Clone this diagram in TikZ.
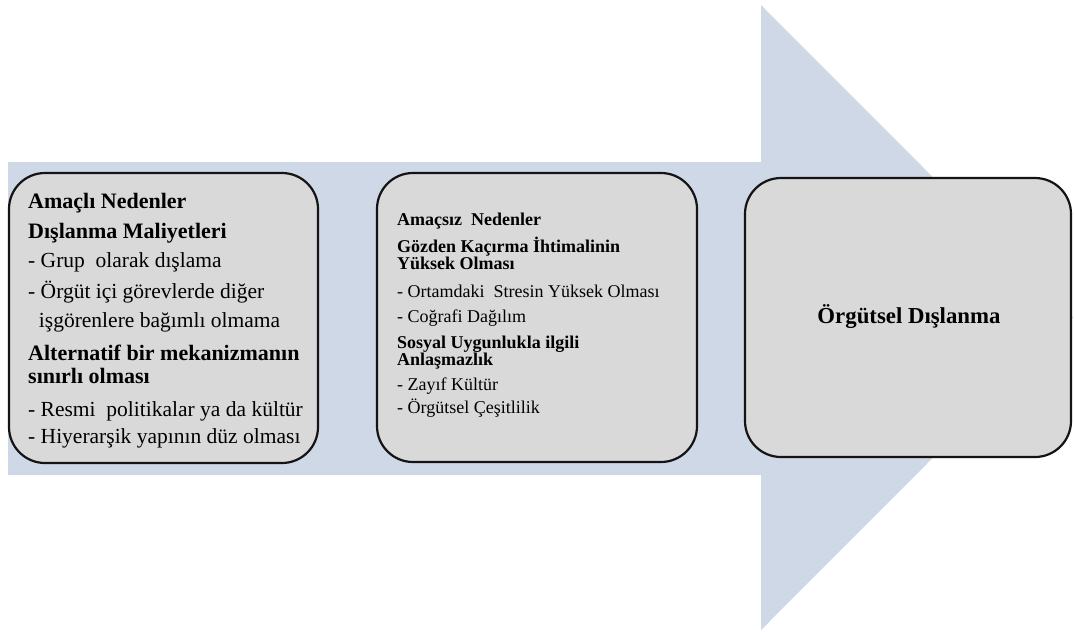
\documentclass[tikz,border=0pt]{standalone}
\usepackage{fontspec}
\setmainfont{Liberation Serif}
\definecolor{arrowfill}{RGB}{207,216,230}
\definecolor{boxfill}{RGB}{217,217,217}
\definecolor{boxline}{RGB}{20,20,20}
\tikzset{
  causebox/.style={draw=boxline, fill=boxfill, line width=2.2pt, rounded corners=36pt},
  boxtext/.style={anchor=north west, inner sep=0pt, align=left, text=black},
}
\newcommand{\hdA}[1]{{\fontsize{22}{30}\selectfont\bfseries #1}}
\begin{document}
\begin{tikzpicture}[x=1pt,y=-1pt]
\useasboundingbox (0,0) rectangle (1074,632);
\begin{scope}
\clip (0,0) rectangle (1074,632);
\fill[arrowfill] (8,162) -- (761,162) -- (761,5) -- (1073,317.5) -- (761,630) -- (761,475) -- (8,475) -- cycle;
\end{scope}
% boxes
\path[causebox] (9,173) rectangle (318,463);
\path[causebox] (377,173) rectangle (697,462);
\path[causebox] (745,178) rectangle (1071,457);
\coordinate (b1) at (28,193);
\coordinate (b2) at (397,213);
\coordinate (b3) at (909,317);
\node[boxtext, font=\fontsize{21.5}{30}\selectfont] (t1) at (b1) {%
\hdA{Amaçlı Nedenler}\\
\hdA{Dışlanma Maliyetleri}\\[-1pt]
- Grup\ \ olarak dışlama\\[1pt]
- Örgüt\ içi görevlerde diğer\\[-1pt]
\ \ işgörenlere bağımlı olmama\\[3pt]
\hdA{Alternatif bir mekanizmanın}\\[-7pt]
\hdA{sınırlı olması}\\[3pt]
- Resmi\ \ politikalar ya da kültür\\[-3pt]
- Hiyerarşik yapının düz olması};
\node[boxtext, font=\fontsize{18}{20}\selectfont] (t2) at (b2) {%
\textbf{Amaçsız\ \ Nedenler}\\[7pt]
\textbf{Gözden Kaçırma İhtimalinin}\\[-3pt]
\textbf{Yüksek Olması}\\[8pt]
- Ortamdaki\ \ Stresin Yüksek Olması\\[5pt]
- Coğrafi Dağılım\\[6pt]
\textbf{Sosyal Uygunlukla ilgili}\\[-3pt]
\textbf{Anlaşmazlık}\\[5pt]
- Zayıf Kültür\\[3pt]
- Örgütsel Çeşitlilik};
\node[inner sep=0pt, font=\fontsize{22.8}{26}\selectfont\bfseries] (t3) at (b3) {Örgütsel Dışlanma};
\end{tikzpicture}
\end{document}
